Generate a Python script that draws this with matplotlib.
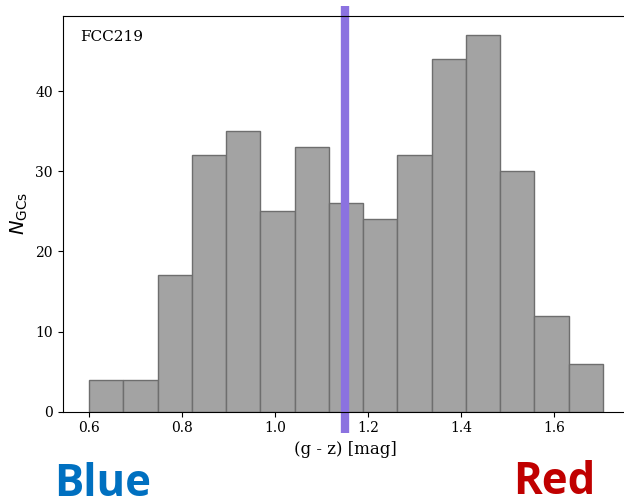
import numpy as np
import matplotlib.pyplot as plt

counts = [4, 4, 17, 32, 35, 25, 33, 26, 24, 32, 44, 47, 30, 12, 6]
edges = np.linspace(0.6, 1.705, len(counts) + 1)
split = 1.15

fig = plt.figure(figsize=(6.24, 5.04), dpi=100)
ax = fig.add_axes([0.1005, 0.1831, 0.906, 0.785])

ax.bar(edges[:-1], counts, width=np.diff(edges), align='edge',
       facecolor='#a3a3a3', edgecolor='#6e6e6e', linewidth=1.0)
ax.axvline(split, ymin=-0.054, ymax=1.025, color='#8b72e0', lw=6,
           solid_capstyle='butt', clip_on=False)

ax.set_xlim(0.5434, 1.759)
ax.set_ylim(0, 49.35)
ax.set_xticks([0.6, 0.8, 1.0, 1.2, 1.4, 1.6])
ax.set_yticks([0, 10, 20, 30, 40])
for lab in ax.get_xticklabels() + ax.get_yticklabels():
    lab.set_family('DejaVu Serif')
    lab.set_fontsize(10)

ax.set_xlabel('(g - z) [mag]', family='DejaVu Serif', fontsize=12, labelpad=4)
ax.set_ylabel(r'$N_{\rm GCs}$', fontsize=14, labelpad=4)
ax.text(0.03, 0.965, 'FCC219', transform=ax.transAxes, ha='left', va='top',
        family='DejaVu Serif', fontsize=11)

fig.text(54 / 624, 1 - 496 / 504, 'Blue', color='#0070c0', fontsize=31.5,
         family='Open Sans', fontweight='bold', ha='left', va='baseline')
fig.text(595 / 624, 1 - 494 / 504, 'Red', color='#c00000', fontsize=31.5,
         family='Open Sans', fontweight='bold', ha='right', va='baseline')

fig.savefig('out.png', dpi=100)
